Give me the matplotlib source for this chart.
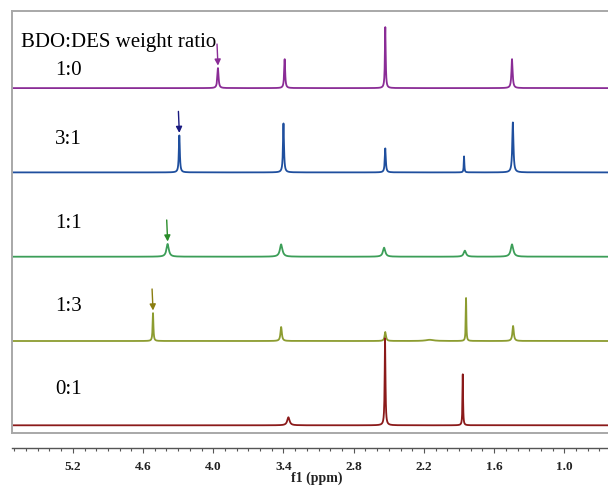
import numpy as np
import matplotlib.pyplot as plt
from matplotlib.ticker import MultipleLocator

# ---------------------------------------------------- spectra (peak lists)
ratios = ['1:0', '3:1', '1:1', '1:3', '0:1']
colors = ['#8a2c96', '#1f4f9e', '#3c9e58', '#8c9c30', '#8b1a1a']
arrow_colors = ['#8a2c96', '#1a1a80', '#2a8c2a', '#8a7d10']

# shift (ppm), height, half width (ppm)
peaks_10 = [(3.96, 20, 0.006), (3.39, 29, 0.005), (2.53, 61, 0.004), (1.447, 29, 0.006)]
peaks_31 = [(4.29, 37, 0.005), (3.40, 49, 0.005), (2.53, 24, 0.005),
            (1.857, 16, 0.003), (1.44, 50, 0.006)]
peaks_11 = [(4.39, 12.7, 0.012), (3.42, 12.3, 0.013), (2.54, 9, 0.012),
            (1.85, 6, 0.012), (1.447, 12.3, 0.013)]
peaks_13 = [(4.515, 28, 0.004), (3.42, 14, 0.007), (2.53, 9, 0.007), (2.15, 1.2, 0.04),
            (1.84, 43, 0.003), (1.438, 15, 0.007)]
peaks_01 = [(3.358, 8, 0.012), (2.532, 87, 0.004), (1.868, 51, 0.003)]
spectra = [peaks_10, peaks_31, peaks_11, peaks_13, peaks_01]

# OH signal of BDO that moves with DES content
oh_shift = [3.96, 4.29, 4.39, 4.515]

tick_vals = [5.2, 4.6, 4.0, 3.4, 2.8, 2.2, 1.6, 1.0]


def lorentz(x, x0, h, w):
    return h * w**2 / ((x - x0)**2 + w**2)


def spectrum(x, plist):
    y = np.zeros_like(x)
    for x0, h, w in plist:
        y += lorentz(x, x0, h, w)
    return y


plt.rcParams['font.family'] = ['Liberation Serif', 'DejaVu Serif']

W, H = 608, 487
fig = plt.figure(figsize=(W / 100, H / 100), dpi=100)

x0px, top_px, bot_px = 12, 11, 432.7
ax = fig.add_axes([x0px / W, (H - bot_px) / H, (W - x0px) / W, (bot_px - top_px) / H])
xmin, xmax = 5.72, 0.627
ax.set_xlim(xmin, xmax)
ax.set_ylim(0, bot_px - top_px)
ax.set_xticks([])
ax.set_yticks([])
for s in ['left', 'top', 'bottom']:
    ax.spines[s].set_color('#a8a8a8')
    ax.spines[s].set_linewidth(1.4)
ax.spines['right'].set_visible(False)

ppm = np.linspace(xmax, xmin, 8000)
step = 84.3
base0 = 7.4
lifts = [13, 28.7, 29, 30.3, 31]

for i, plist in enumerate(spectra):
    off = base0 + step * (len(spectra) - 1 - i)
    ax.plot(ppm, spectrum(ppm, plist) + off, color=colors[i], lw=1.3)
    ax.text(5.351, off + lifts[i], ratios[i], fontsize=15, va='baseline', ha='left')
    if i < len(oh_shift):
        top = off + spectrum(np.array([oh_shift[i]]), plist)[0]
        ax.annotate('', xy=(oh_shift[i], top + 2.5), xytext=(oh_shift[i] + 0.008, top + 24),
                    arrowprops=dict(arrowstyle='-|>', color=arrow_colors[i], lw=1.0,
                                    mutation_scale=9, shrinkA=0, shrinkB=0))

ax.text(5.644, bot_px - 46.7, 'BDO:DES weight ratio', fontsize=15, va='baseline', ha='left')

# separate ppm scale below the stack
axis_px = 448.3
ax2 = fig.add_axes([x0px / W, (H - axis_px) / H, (W - x0px) / W, 0.0001])
ax2.set_xlim(xmin, xmax)
ax2.set_yticks([])
ax2.patch.set_visible(False)
for s in ['left', 'right', 'top']:
    ax2.spines[s].set_visible(False)
ax2.spines['bottom'].set_color('#555555')
ax2.spines['bottom'].set_linewidth(1.0)
ax2.set_xticks(tick_vals)
ax2.set_xticklabels([f'{v:.1f}' for v in tick_vals], fontsize=9.5, fontweight='bold',
                    color='#222222')
ax2.xaxis.set_minor_locator(MultipleLocator(0.1))
ax2.tick_params(axis='x', which='major', length=3.5, width=0.8, color='#555555', pad=6)
ax2.tick_params(axis='x', which='minor', length=2.5, width=0.8, color='#555555')

fig.text(317 / W, (H - 472) / H, 'f1 (ppm)', fontsize=10, fontweight='bold',
         color='#222222', ha='center', va='top')

fig.savefig('out.png', dpi=100)
